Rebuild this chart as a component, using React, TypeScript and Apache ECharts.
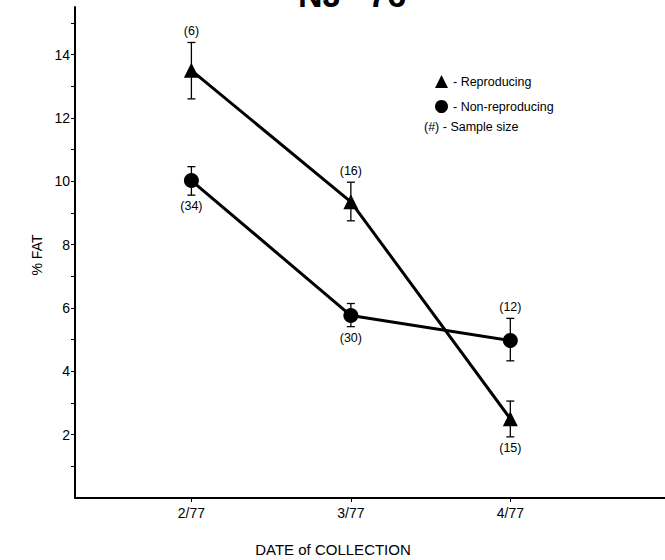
import React, { useEffect, useRef } from "react";
import * as echarts from "echarts";

const categories = ["2/77", "3/77", "4/77"];
const reproducing = [13.5, 9.35, 2.5];
const reproducingLow = [12.6, 8.75, 1.93];
const reproducingHigh = [14.38, 9.97, 3.06];
const reproducingN = [6, 16, 15];
const reproducingLabelUp = [1, 1, 0];
const nonReproducing = [10.02, 5.76, 4.97];
const nonReproducingLow = [9.56, 5.41, 4.33];
const nonReproducingHigh = [10.46, 6.14, 5.67];
const nonReproducingN = [34, 30, 12];
const nonReproducingLabelUp = [0, 0, 1];
const yTickValues = [1, 2, 3, 4, 5, 6, 7, 8, 9, 10, 11, 12, 13, 14, 15];
const yLabelValues = [2, 4, 6, 8, 10, 12, 14];

const FONT = "'Liberation Sans', Arial, Helvetica, sans-serif";

function errData(mid: number[], low: number[], high: number[], n: number[], up: number[]) {
  return mid.map((_, i) => [i + 1, low[i], high[i], n[i], up[i]]);
}

function renderErr(params: any, api: any) {
  const x = api.value(0);
  const lo = api.coord([x, api.value(1)]);
  const hi = api.coord([x, api.value(2)]);
  const n = api.value(3);
  const up = api.value(4);
  const cap = 4;
  const st = { stroke: "#000", lineWidth: 1.3 };
  const ty = up ? hi[1] - 11 : lo[1] + 11;
  return {
    type: "group",
    children: [
      { type: "line", shape: { x1: lo[0], y1: lo[1], x2: hi[0], y2: hi[1] }, style: st },
      { type: "line", shape: { x1: lo[0] - cap, y1: lo[1], x2: lo[0] + cap, y2: lo[1] }, style: st },
      { type: "line", shape: { x1: hi[0] - cap, y1: hi[1], x2: hi[0] + cap, y2: hi[1] }, style: st },
      {
        type: "text",
        x: lo[0],
        y: ty,
        style: {
          text: "(" + n + ")",
          fill: "#000",
          font: "12.5px " + FONT,
          align: "center",
          verticalAlign: "middle",
        },
      },
    ],
  };
}

export default function App() {
  const ref = useRef<HTMLDivElement>(null);
  useEffect(() => {
    if (!ref.current) return;
    const chart = echarts.init(ref.current, undefined, { renderer: "svg" });
    const option: any = {
      animation: false,
      backgroundColor: "#fff",
      grid: { left: 75, top: 7, right: 0, bottom: 62 },
      legend: {
        orient: "vertical",
        left: 430,
        top: 70,
        itemWidth: 13,
        itemHeight: 13,
        itemGap: 12,
        formatter: (name: string) => "- " + name,
        textStyle: { fontFamily: FONT, fontSize: 12.5, color: "#000" },
        data: [
          { name: "Reproducing", icon: "triangle" },
          { name: "Non-reproducing", icon: "circle" },
        ],
      },
      graphic: [
        {
          type: "text",
          x: 352,
          y: -5,
          style: {
            text: "NJ  '76",
            font: "bold 34px " + FONT,
            fill: "#000",
            align: "center",
            verticalAlign: "middle",
          },
        },
        {
          type: "text",
          x: 424,
          y: 127,
          style: {
            text: "(#) - Sample size",
            font: "12.5px " + FONT,
            fill: "#000",
            align: "left",
            verticalAlign: "middle",
          },
        },
        {
          type: "text",
          x: 37,
          y: 255,
          rotation: Math.PI / 2,
          style: {
            text: "% FAT",
            font: "14px " + FONT,
            fill: "#000",
            align: "center",
            verticalAlign: "middle",
          },
        },
        {
          type: "text",
          x: 333,
          y: 549,
          style: {
            text: "DATE of COLLECTION",
            font: "15px " + FONT,
            fill: "#000",
            align: "center",
            verticalAlign: "middle",
          },
        },
      ],
      xAxis: {
        type: "value",
        min: 0.27,
        max: 3.97,
        splitLine: { show: false },
        axisLine: { lineStyle: { color: "#000", width: 2 } },
        axisTick: { customValues: [1, 2, 3], length: 4, lineStyle: { color: "#000", width: 1 } },
        axisLabel: {
          customValues: [1, 2, 3],
          formatter: (v: number) => categories[Math.round(v) - 1],
          fontFamily: FONT,
          fontSize: 14,
          color: "#000",
          margin: 8,
        },
      },
      yAxis: {
        type: "value",
        min: 0,
        max: 15.5,
        splitLine: { show: false },
        axisLine: { show: true, lineStyle: { color: "#000", width: 2 } },
        axisTick: { show: true, customValues: yTickValues, length: 4, lineStyle: { color: "#000", width: 1 } },
        axisLabel: {
          customValues: yLabelValues,
          fontFamily: FONT,
          fontSize: 14,
          color: "#000",
          margin: 5,
        },
      },
      series: [
        {
          type: "custom",
          name: "errR",
          renderItem: renderErr,
          data: errData(reproducing, reproducingLow, reproducingHigh, reproducingN, reproducingLabelUp),
          z: 1,
        },
        {
          type: "custom",
          name: "errN",
          renderItem: renderErr,
          data: errData(nonReproducing, nonReproducingLow, nonReproducingHigh, nonReproducingN, nonReproducingLabelUp),
          z: 1,
        },
        {
          type: "line",
          name: "Reproducing",
          data: reproducing.map((v, i) => [i + 1, v]),
          symbol: "triangle",
          symbolSize: 15,
          lineStyle: { color: "#000", width: 3 },
          itemStyle: { color: "#000" },
          z: 3,
        },
        {
          type: "line",
          name: "Non-reproducing",
          data: nonReproducing.map((v, i) => [i + 1, v]),
          symbol: "circle",
          symbolSize: 15,
          lineStyle: { color: "#000", width: 3 },
          itemStyle: { color: "#000" },
          z: 3,
        },
      ],
    };
    chart.setOption(option);
    return () => chart.dispose();
  }, []);
  return (
    <div
      ref={ref}
      style={{ position: "fixed", left: 0, top: 0, width: 665, height: 560, background: "#fff" }}
    />
  );
}
